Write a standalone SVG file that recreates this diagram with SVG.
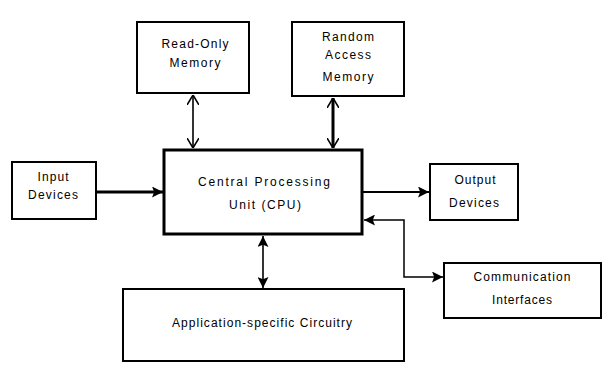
<svg xmlns="http://www.w3.org/2000/svg" width="613" height="390" viewBox="0 0 613 390">
<style>
.box{fill:#fff;stroke:#000;stroke-width:2}
.cpu{fill:#fff;stroke:#000;stroke-width:3}
text{font-family:"Liberation Sans",Arial,sans-serif;font-size:12px;fill:#000;text-anchor:middle}
.ln{fill:none;stroke:#000}
</style>
<defs>
<marker id="fa" viewBox="0 0 10 10" refX="10" refY="5" markerWidth="11" markerHeight="11" markerUnits="userSpaceOnUse" orient="auto-start-reverse">
<path d="M0,0 L10,5 L0,10 L2,5 Z" fill="#000"/>
</marker>
<marker id="oa" viewBox="0 0 10 12" refX="10" refY="6" markerWidth="10" markerHeight="12" markerUnits="userSpaceOnUse" orient="auto-start-reverse">
<path d="M0,0 L10,6 L0,12" fill="none" stroke="#000" stroke-width="1.6"/>
</marker>
</defs>
<rect width="613" height="390" fill="#fff"/>
<g id="connectors">
<line class="ln" x1="193" y1="95" x2="193" y2="148" stroke-width="1.6" marker-start="url(#oa)" marker-end="url(#oa)"/>
<line class="ln" x1="333" y1="98" x2="333" y2="148" stroke-width="3" marker-start="url(#oa)" marker-end="url(#oa)"/>
<line class="ln" x1="96" y1="192" x2="163" y2="192" stroke-width="3" marker-end="url(#fa)"/>
<line class="ln" x1="363" y1="192" x2="429" y2="192" stroke-width="2.2" marker-end="url(#fa)"/>
<polyline class="ln" points="364,220 404,220 404,277 443,277" stroke-width="1.5" marker-start="url(#fa)" marker-end="url(#fa)"/>
<line class="ln" x1="263" y1="236" x2="263" y2="288" stroke-width="1.6" marker-start="url(#fa)" marker-end="url(#fa)"/>
</g>
<g id="rom">
<rect class="box" x="137" y="22" width="112" height="71"/>
<text x="195" y="48" textLength="67" lengthAdjust="spacing">Read-Only</text>
<text x="195" y="67" textLength="51" lengthAdjust="spacing">Memory</text>
</g>
<g id="ram">
<rect class="box" x="292" y="22" width="112" height="74"/>
<text x="348" y="41" textLength="52" lengthAdjust="spacing">Random</text>
<text x="348" y="59" textLength="46" lengthAdjust="spacing">Access</text>
<text x="348" y="81" textLength="51" lengthAdjust="spacing">Memory</text>
</g>
<g id="input">
<rect class="box" x="12" y="162" width="84" height="57"/>
<text x="53" y="181" textLength="31" lengthAdjust="spacing">Input</text>
<text x="53" y="199" textLength="50" lengthAdjust="spacing">Devices</text>
</g>
<g id="cpu">
<rect class="cpu" x="164" y="150" width="198" height="84"/>
<text x="264" y="186" textLength="132" lengthAdjust="spacing">Central Processing</text>
<text x="265" y="209" textLength="72" lengthAdjust="spacing">Unit (CPU)</text>
</g>
<g id="output">
<rect class="box" x="430" y="164" width="88" height="56"/>
<text x="475" y="184" textLength="41" lengthAdjust="spacing">Output</text>
<text x="474" y="207" textLength="50" lengthAdjust="spacing">Devices</text>
</g>
<g id="comm">
<rect class="box" x="444" y="263" width="157" height="55"/>
<text x="522" y="281" textLength="97" lengthAdjust="spacing">Communication</text>
<text x="522" y="304" textLength="60" lengthAdjust="spacing">Interfaces</text>
</g>
<g id="app">
<rect class="box" x="123" y="289" width="281" height="72"/>
<text x="262" y="327" textLength="180" lengthAdjust="spacing">Application-specific Circuitry</text>
</g>
</svg>
